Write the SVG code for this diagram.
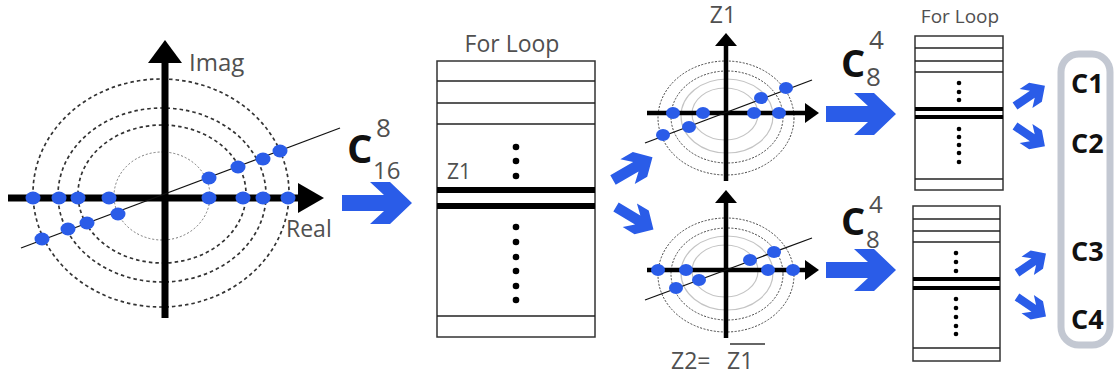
<svg xmlns="http://www.w3.org/2000/svg" xmlns:xlink="http://www.w3.org/1999/xlink" width="1114" height="378" viewBox="0 0 1114 378">
<style>
.lbl{font-family:"Open Sans","Liberation Sans",sans-serif;fill:#505050;}
.bold{font-family:"Open Sans","Liberation Sans",sans-serif;font-weight:700;fill:#111;}
.ax{stroke:#000;fill:none;}
.dash{fill:none;stroke:#333;stroke-width:1.7;stroke-dasharray:3.5 3;}
.dot1{fill:none;stroke:#777;stroke-width:1;stroke-dasharray:2 2;}
.sdash{fill:none;stroke:#444;stroke-width:1;stroke-dasharray:2 1.5;}
.slight{fill:none;stroke:#c4c4c4;stroke-width:1.2;}
.diag{stroke:#111;stroke-width:1.3;}
.bd{fill:#2a5ce8;}
.tbl{fill:#fff;stroke:#333;stroke-width:1.5;}
.tl{stroke:#222;stroke-width:1.5;}
.blue{fill:#2a5ce8;}
.bk{fill:#000;}
</style>
<defs>
<path id="bigArrow" d="M0,-8 H42 L28,-21 H48 L70,0 L48,21 H28 L42,8 H0 Z"/>
<path id="smallArrow" d="M0,-4.5 H22 L14,-12 H26 L38,0 L26,12 H14 L22,4.5 H0 Z"/>
</defs>
<rect width="1114" height="378" fill="#fff"/>

<g id="plane-main">
  <ellipse class="dash" cx="161" cy="193" rx="128" ry="114"/>
  <ellipse class="dash" cx="162" cy="195" rx="104" ry="87"/>
  <ellipse class="dash" cx="162" cy="194" rx="84" ry="69"/>
  <ellipse class="dot1" cx="162" cy="196" rx="48" ry="44"/>
  <line class="ax" x1="165" y1="58" x2="165" y2="318" stroke-width="7"/>
  <polygon class="bk" points="165,40 182,63 148,63"/>
  <line class="ax" x1="8" y1="198" x2="302" y2="198" stroke-width="7"/>
  <polygon class="bk" points="324,198 298,183 298,213"/>
  <line class="diag" x1="21" y1="248" x2="340" y2="128"/>
  <g class="bd">
    <ellipse cx="33" cy="198" rx="7.5" ry="6.5"/>
    <ellipse cx="59" cy="198" rx="7.5" ry="6.5"/>
    <ellipse cx="78" cy="198" rx="7.5" ry="6.5"/>
    <ellipse cx="109" cy="198" rx="7.5" ry="6.5"/>
    <ellipse cx="209" cy="198" rx="7.5" ry="6.5"/>
    <ellipse cx="243" cy="198" rx="7.5" ry="6.5"/>
    <ellipse cx="263" cy="198" rx="7.5" ry="6.5"/>
    <ellipse cx="288" cy="198" rx="7.5" ry="6.5"/>
    <ellipse cx="42" cy="239" rx="7.5" ry="6.5"/>
    <ellipse cx="68" cy="229" rx="7.5" ry="6.5"/>
    <ellipse cx="87" cy="223" rx="7.5" ry="6.5"/>
    <ellipse cx="118" cy="214" rx="7.5" ry="6.5"/>
    <ellipse cx="209" cy="178" rx="7.5" ry="6.5"/>
    <ellipse cx="238" cy="167" rx="7.5" ry="6.5"/>
    <ellipse cx="263" cy="159" rx="7.5" ry="6.5"/>
    <ellipse cx="280" cy="151" rx="7.5" ry="6.5"/>
  </g>
  <text class="lbl" x="189" y="71" font-size="24">Imag</text>
  <text class="lbl" x="286" y="237" font-size="23">Real</text>
</g>

<g id="step1-label">
  <text class="bold" x="347" y="163" font-size="40">C</text>
  <text class="lbl" x="376" y="137" font-size="26">8</text>
  <text class="lbl" x="373" y="179" font-size="24">16</text>
</g>

<g id="table-main">
  <text class="lbl" x="512" y="52" font-size="23" text-anchor="middle">For Loop</text>
  <rect class="tbl" x="437" y="61" width="158" height="276"/>
  <line class="tl" x1="437" y1="81" x2="595" y2="81"/>
  <line class="tl" x1="437" y1="103" x2="595" y2="103"/>
  <line class="tl" x1="437" y1="124" x2="595" y2="124"/>
  <line class="tl" x1="437" y1="316" x2="595" y2="316"/>
  <line x1="437" y1="190" x2="595" y2="190" stroke="#000" stroke-width="6"/>
  <line x1="437" y1="206" x2="595" y2="206" stroke="#000" stroke-width="6"/>
  <g class="bk">
    <circle cx="516" cy="147" r="3.3"/><circle cx="516" cy="161" r="3.3"/><circle cx="516" cy="176" r="3.3"/>
    <circle cx="516" cy="227" r="3.3"/><circle cx="516" cy="242" r="3.3"/><circle cx="516" cy="257" r="3.3"/>
    <circle cx="516" cy="271" r="3.3"/><circle cx="516" cy="286" r="3.3"/><circle cx="516" cy="300" r="3.3"/>
  </g>
  <text class="lbl" x="447" y="179" font-size="21">Z1</text>
</g>

<g id="plane-z1">
  <ellipse class="sdash" cx="726" cy="118" rx="68" ry="57"/>
  <ellipse class="sdash" cx="727" cy="117" rx="56" ry="46"/>
  <ellipse class="slight" cx="727" cy="116" rx="46" ry="37"/>
  <ellipse class="slight" cx="725" cy="114" rx="33" ry="26"/>
  <line class="ax" x1="726" y1="42" x2="726" y2="181" stroke-width="4.5"/>
  <polygon class="bk" points="726,33 737,46 715,46"/>
  <line class="ax" x1="647" y1="113" x2="808" y2="113" stroke-width="4.5"/>
  <polygon class="bk" points="819,113 805,103 805,123"/>
  <line class="diag" x1="645" y1="143" x2="812" y2="80"/>
  <g class="bd">
    <ellipse cx="673" cy="113" rx="7" ry="6"/>
    <ellipse cx="703" cy="113" rx="7" ry="6"/>
    <ellipse cx="754" cy="113" rx="7" ry="6"/>
    <ellipse cx="779" cy="113" rx="7" ry="6"/>
    <ellipse cx="663" cy="135" rx="7" ry="6"/>
    <ellipse cx="689" cy="127" rx="7" ry="6"/>
    <ellipse cx="761" cy="98" rx="7" ry="6"/>
    <ellipse cx="786" cy="88" rx="7" ry="6"/>
  </g>
  <text class="lbl" x="723" y="23" font-size="23" text-anchor="middle">Z1</text>
</g>

<g id="plane-z2">
  <ellipse class="sdash" cx="726" cy="275" rx="68" ry="57"/>
  <ellipse class="sdash" cx="727" cy="274" rx="56" ry="46"/>
  <ellipse class="slight" cx="727" cy="273" rx="46" ry="37"/>
  <ellipse class="slight" cx="725" cy="271" rx="33" ry="26"/>
  <line class="ax" x1="726" y1="199" x2="726" y2="338" stroke-width="4.5"/>
  <polygon class="bk" points="726,190 737,203 715,203"/>
  <line class="ax" x1="647" y1="270" x2="808" y2="270" stroke-width="4.5"/>
  <polygon class="bk" points="819,270 805,260 805,280"/>
  <line class="diag" x1="645" y1="300" x2="812" y2="238"/>
  <g class="bd">
    <ellipse cx="658" cy="270" rx="7" ry="6"/>
    <ellipse cx="686" cy="270" rx="7" ry="6"/>
    <ellipse cx="768" cy="270" rx="7" ry="6"/>
    <ellipse cx="793" cy="270" rx="7" ry="6"/>
    <ellipse cx="676" cy="288" rx="7" ry="6"/>
    <ellipse cx="699" cy="280" rx="7" ry="6"/>
    <ellipse cx="750" cy="260" rx="7" ry="6"/>
    <ellipse cx="774" cy="252" rx="7" ry="6"/>
  </g>
  <text class="lbl" x="671" y="369" font-size="23">Z2=</text>
  <text class="lbl" x="727" y="369" font-size="23">Z1</text>
  <line x1="730" y1="344" x2="765" y2="344" stroke="#333" stroke-width="1.5"/>
</g>

<g id="step2-label-top">
  <text class="bold" x="841" y="77" font-size="38">C</text>
  <text class="lbl" x="869" y="49" font-size="26">4</text>
  <text class="lbl" x="866" y="86" font-size="26">8</text>
</g>
<g id="step2-label-bottom">
  <text class="bold" x="841" y="235" font-size="38">C</text>
  <text class="lbl" x="869" y="213" font-size="24">4</text>
  <text class="lbl" x="866" y="248" font-size="24">8</text>
</g>

<g id="table-top">
  <text class="lbl" x="960" y="23" font-size="19" text-anchor="middle">For Loop</text>
  <rect class="tbl" x="915" y="36" width="88" height="154"/>
  <line class="tl" x1="915" y1="48" x2="1003" y2="48"/>
  <line class="tl" x1="915" y1="61" x2="1003" y2="61"/>
  <line class="tl" x1="915" y1="72" x2="1003" y2="72"/>
  <line class="tl" x1="915" y1="179" x2="1003" y2="179"/>
  <line x1="915" y1="109" x2="1003" y2="109" stroke="#000" stroke-width="4"/>
  <line x1="915" y1="117" x2="1003" y2="117" stroke="#000" stroke-width="4"/>
  <g class="bk">
    <circle cx="959" cy="83" r="2.3"/><circle cx="959" cy="92" r="2.3"/><circle cx="959" cy="100" r="2.3"/>
    <circle cx="959" cy="129" r="2.3"/><circle cx="959" cy="137" r="2.3"/><circle cx="959" cy="145" r="2.3"/>
    <circle cx="959" cy="153" r="2.3"/><circle cx="959" cy="162" r="2.3"/>
  </g>
</g>

<g id="table-bottom">
  <rect class="tbl" x="913" y="206" width="87" height="155"/>
  <line class="tl" x1="913" y1="219" x2="1000" y2="219"/>
  <line class="tl" x1="913" y1="231" x2="1000" y2="231"/>
  <line class="tl" x1="913" y1="242" x2="1000" y2="242"/>
  <line class="tl" x1="913" y1="348" x2="1000" y2="348"/>
  <line x1="913" y1="279" x2="1000" y2="279" stroke="#000" stroke-width="4"/>
  <line x1="913" y1="288" x2="1000" y2="288" stroke="#000" stroke-width="4"/>
  <g class="bk">
    <circle cx="956" cy="253" r="2.3"/><circle cx="956" cy="262" r="2.3"/><circle cx="956" cy="271" r="2.3"/>
    <circle cx="956" cy="299" r="2.3"/><circle cx="956" cy="308" r="2.3"/><circle cx="956" cy="317" r="2.3"/>
    <circle cx="956" cy="326" r="2.3"/><circle cx="956" cy="334" r="2.3"/>
  </g>
</g>

<g id="outputs">
  <rect x="1061" y="54" width="49" height="291" rx="18" fill="none" stroke="#c3c8d2" stroke-width="7"/>
  <text class="bold" x="1071" y="93" font-size="27">C1</text>
  <text class="bold" x="1071" y="153" font-size="27">C2</text>
  <text class="bold" x="1071" y="261" font-size="27">C3</text>
  <text class="bold" x="1071" y="329" font-size="27">C4</text>
</g>

<g id="connectors">
  <use href="#bigArrow" class="blue" transform="translate(342,203)"/>
  <use href="#bigArrow" class="blue" transform="translate(826,114)"/>
  <use href="#bigArrow" class="blue" transform="translate(826,270)"/>
  <use href="#smallArrow" class="blue" transform="translate(613,180) rotate(-30) scale(1.2)"/>
  <use href="#smallArrow" class="blue" transform="translate(616,207) rotate(31) scale(1.15)"/>
  <use href="#smallArrow" class="blue" transform="translate(1015,106) rotate(-34) scale(0.95)"/>
  <use href="#smallArrow" class="blue" transform="translate(1015,126) rotate(34) scale(0.95)"/>
  <use href="#smallArrow" class="blue" transform="translate(1017,273) rotate(-34) scale(0.92)"/>
  <use href="#smallArrow" class="blue" transform="translate(1017,297) rotate(34) scale(0.92)"/>
</g>
</svg>
